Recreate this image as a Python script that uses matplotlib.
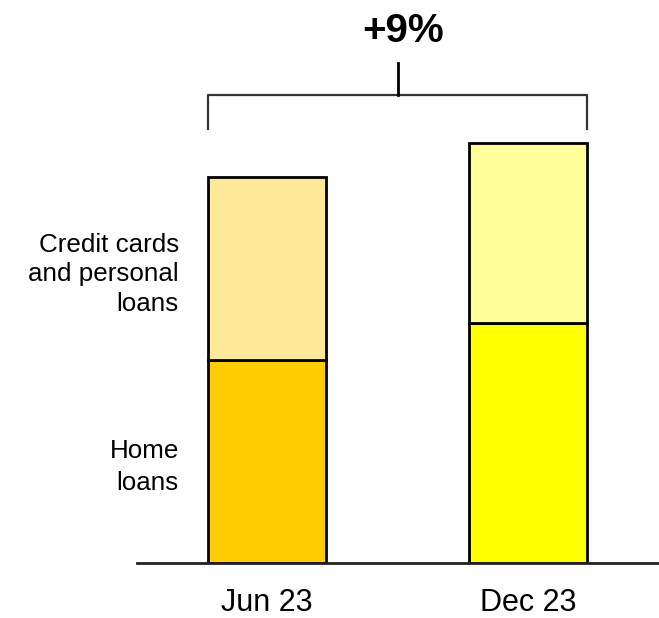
import matplotlib
matplotlib.use("Agg")
import matplotlib.pyplot as plt

plt.rcParams['font.family'] = ['Liberation Sans', 'DejaVu Sans']

periods = ["Jun 23", "Dec 23"]
home_loans = [203, 240.6]
credit_cards = [183, 179.4]
home_colors = ["#FFCC00", "#FFFF00"]
credit_colors = ["#FFE999", "#FFFF99"]
credit_label_lines = ["Credit cards", "and personal", "loans"]
home_label_lines = ["Home", "loans"]
growth_label = "+9%"

W, H = 659, 618
fig = plt.figure(figsize=(W / 100, H / 100), dpi=100)
base_px = 563.3
ax = fig.add_axes([0, (H - base_px) / H, 1, base_px / H])
px_per_unit = 261.0
x0_px = 267.0
ax.set_xlim(-x0_px / px_per_unit, (W - x0_px) / px_per_unit)
ax.set_ylim(0, base_px)
ax.axis("off")

xs = list(range(len(periods)))
bw = 118 / px_per_unit
ax.bar(xs, home_loans, width=bw, color=home_colors, edgecolor="black", linewidth=2, zorder=2)
ax.bar(xs, credit_cards, width=bw, bottom=home_loans, color=credit_colors,
       edgecolor="black", linewidth=2, zorder=2)

# baseline
ax.plot([(137 - x0_px) / px_per_unit, (W - x0_px) / px_per_unit], [0, 0],
        color="#222222", lw=2, zorder=3, clip_on=False)

# category labels
for x, p in zip(xs, periods):
    ax.text(x, -48, p, ha="center", va="baseline", fontsize=22, color="black")

# segment labels
lx = (179 - x0_px) / px_per_unit
cc = home_loans[0] + credit_cards[0] / 2
for i, line in enumerate(credit_label_lines):
    ax.text(lx, cc + 16.8 - 29.5 * i, line, ha="right", va="baseline", fontsize=18.7)
hc = home_loans[0] / 2
for i, line in enumerate(home_label_lines):
    ax.text(lx, hc + 3.8 - 32 * i, line, ha="right", va="baseline", fontsize=18.7)

# bracket
totals = [h + c for h, c in zip(home_loans, credit_cards)]
top = max(totals)
yb = top + 48
yt = top + 14
left = xs[0] - bw / 2
right = xs[1] + bw / 2
mid = (left + right) / 2
ax.plot([left, left, right, right], [yt, yb, yb, yt], color="#333333", lw=1.6, clip_on=False)
ax.plot([mid, mid], [yb, yb + 32], color="black", lw=2, clip_on=False)
ax.text(mid + 6 / px_per_unit, yb + 53, growth_label, ha="center", va="baseline",
        fontsize=29, fontweight="bold")

fig.savefig("out.png", dpi=100)
